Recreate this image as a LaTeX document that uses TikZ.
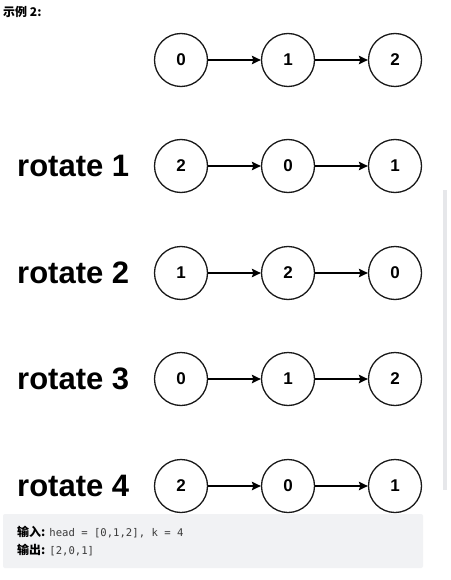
\documentclass[tikz,border=0pt]{standalone}
\usepackage{fontspec}
\setmainfont{Liberation Sans}
\setmonofont{DejaVu Sans Mono}
\newfontfamily\cjk{Noto Sans CJK SC}
\usetikzlibrary{arrows.meta}
\definecolor{boxbg}{HTML}{F1F2F4}
\definecolor{barbg}{HTML}{E6E7EA}
\definecolor{codecol}{HTML}{3A3A3A}
\tikzset{
  lnode/.style={circle,draw=black!90,line width=1.3pt,minimum size=53pt,inner sep=0pt,font=\fontsize{17}{17}\selectfont\bfseries},
  link/.style={line width=1.3pt,-{Stealth[length=9pt,width=8.5pt,inset=1.5pt]}},
  rotlabel/.style={anchor=west,inner sep=0pt,font=\fontsize{31}{31}\selectfont\bfseries}
}
\begin{document}
\begin{tikzpicture}[x=1pt,y=-1pt]
\useasboundingbox (0,0) rectangle (450,580);
\fill[white] (0,0) rectangle (450,580);
\node[anchor=west,inner sep=0pt,font=\cjk\fontsize{12}{12}\selectfont\bfseries] (title) at (3,12) {示例 2:};
\fill[barbg] (443,190) rectangle (447,490);
% rows
\foreach \r/\y/\a/\b/\c in {0/60/0/1/2, 1/166/2/0/1, 2/273/1/2/0, 3/379/0/1/2, 4/486/2/0/1}{
  \node[lnode] (n\r a) at (181,\y) {\a};
  \node[lnode] (n\r b) at (288,\y) {\b};
  \node[lnode] (n\r c) at (395,\y) {\c};
  \draw[link] (n\r a) -- (n\r b);
  \draw[link] (n\r b) -- (n\r c);
}
\foreach \r/\y in {1/166,2/273,3/379,4/486}{
  \node[rotlabel] (lab\r) at (17,\y) {rotate \r};
}
\fill[boxbg,rounded corners=2pt] (3,514) rectangle (423,568);
\node[anchor=west,inner sep=0pt] (in) at (17,532) {{\cjk\fontsize{12}{12}\selectfont\bfseries 输入:}\hspace{4pt}{\ttfamily\fontsize{10.6}{11}\selectfont\color{codecol}head = [0,1,2], k = 4}};
\node[anchor=west,inner sep=0pt] (out) at (17,550) {{\cjk\fontsize{12}{12}\selectfont\bfseries 输出:}\hspace{4pt}{\ttfamily\fontsize{10.6}{11}\selectfont\color{codecol}[2,0,1]}};
\end{tikzpicture}
\end{document}
